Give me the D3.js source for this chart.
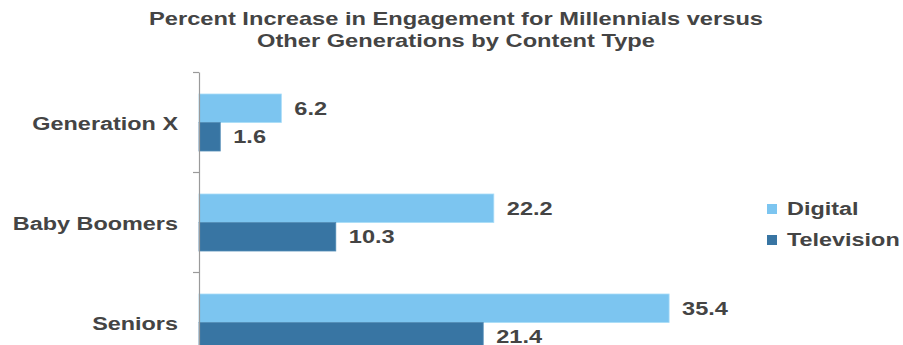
<!DOCTYPE html>
<html>
<head>
<meta charset="utf-8">
<script src="https://cdn.jsdelivr.net/npm/d3@7"></script>
<style>
  html, body { margin: 0; padding: 0; background: #ffffff; }
  svg { display: block; }
</style>
</head>
<body>
<svg id="chart" width="903" height="345"></svg>
<script>
const categories = ["Generation X", "Baby Boomers", "Seniors"];
const seriesNames = ["Digital", "Television"];
const digitalValues = [6.2, 22.2, 35.4];
const televisionValues = [1.6, 10.3, 21.4];
const titleLines = ["Percent Increase in Engagement for Millennials versus", "Other Generations by Content Type"];

const colors = { "Digital": "#7cc5f0", "Television": "#3875a3" };
const textColor = "#444444";
const font = "'Liberation Sans', Arial, sans-serif";

const svg = d3.select("#chart");

const rows = categories.map((c, i) => ({
  category: c,
  values: [
    { series: "Digital", value: digitalValues[i] },
    { series: "Television", value: televisionValues[i] }
  ]
}));

// horizontally stretch text glyphs (reference uses wide rendering)
function stretch(sel, k) {
  sel.each(function() {
    const w = this.getComputedTextLength();
    d3.select(this).attr("textLength", w * k).attr("lengthAdjust", "spacingAndGlyphs");
  });
}

// Title
svg.append("g").selectAll("text")
  .data(titleLines)
  .join("text")
  .attr("x", 456)
  .attr("y", (d, i) => 25 + i * 22)
  .attr("text-anchor", "middle")
  .attr("font-family", "'Liberation Sans Narrow', 'Arial Narrow', 'Liberation Sans', Arial, sans-serif")
  .attr("font-weight", "bold")
  .attr("font-size", 19)
  .attr("fill", textColor)
  .attr("textLength", (d, i) => i === 0 ? 614 : 398)
  .attr("lengthAdjust", "spacingAndGlyphs")
  .text(d => d);

const plotLeft = 199, plotTop = 72, bandH = 100;
const y = d3.scaleBand().domain(categories).range([plotTop, plotTop + bandH * categories.length]).padding(0);
const yInner = d3.scaleBand().domain(seriesNames).range([22, 79]).padding(0);
const x = d3.scaleLinear().domain([0, 40]).range([plotLeft, plotLeft + 531.2]);

// Bars
const groups = svg.append("g").selectAll("g")
  .data(rows)
  .join("g")
  .attr("transform", d => `translate(0,${y(d.category)})`);

groups.selectAll("rect")
  .data(d => d.values)
  .join("rect")
  .attr("x", x(0))
  .attr("y", d => yInner(d.series))
  .attr("width", d => x(d.value) - x(0))
  .attr("height", yInner.bandwidth())
  .attr("fill", d => colors[d.series])
  .attr("stroke", d => d.series === "Digital" ? "#a9dcf7" : "#4f8ab5")
  .attr("stroke-width", 0.8);

groups.selectAll("text.val")
  .data(d => d.values)
  .join("text")
  .attr("class", "val")
  .attr("x", d => x(d.value) + 13)
  .attr("y", d => yInner(d.series) + yInner.bandwidth() / 2)
  .attr("dominant-baseline", "central")
  .attr("font-family", font)
  .attr("font-weight", "bold")
  .attr("font-size", 19)
  .attr("fill", textColor)
  .text(d => d.value.toFixed(1))
  .call(stretch, 1.24);

// Axis (category boundaries)
const yIdx = d3.scaleLinear().domain([0, categories.length]).range([plotTop, plotTop + bandH * categories.length]);
const axis = svg.append("g")
  .attr("transform", `translate(${plotLeft},0)`)
  .call(d3.axisLeft(yIdx).tickValues(d3.range(categories.length + 1)).tickFormat("").tickSize(6).tickSizeOuter(0));
axis.selectAll("path, line").attr("stroke", "#9a9a9a").attr("stroke-width", 1.2);

// Category labels
svg.append("g").selectAll("text")
  .data(categories)
  .join("text")
  .attr("x", 178)
  .attr("y", d => y(d) + yInner(seriesNames[1]) + 1)
  .attr("text-anchor", "end")
  .attr("dominant-baseline", "central")
  .attr("font-family", font)
  .attr("font-weight", "bold")
  .attr("font-size", 18)
  .attr("fill", textColor)
  .text(d => d)
  .call(stretch, 1.30);

// Legend
const legend = svg.append("g").selectAll("g")
  .data(seriesNames)
  .join("g")
  .attr("transform", (d, i) => `translate(767,${204 + i * 31})`);
legend.append("rect")
  .attr("width", 10).attr("height", 10)
  .attr("fill", d => colors[d]);
legend.append("text")
  .attr("x", 20)
  .attr("y", 5)
  .attr("dominant-baseline", "central")
  .attr("font-family", font)
  .attr("font-weight", "bold")
  .attr("font-size", 18)
  .attr("fill", textColor)
  .text(d => d)
  .call(stretch, 1.30);
</script>
</body>
</html>
